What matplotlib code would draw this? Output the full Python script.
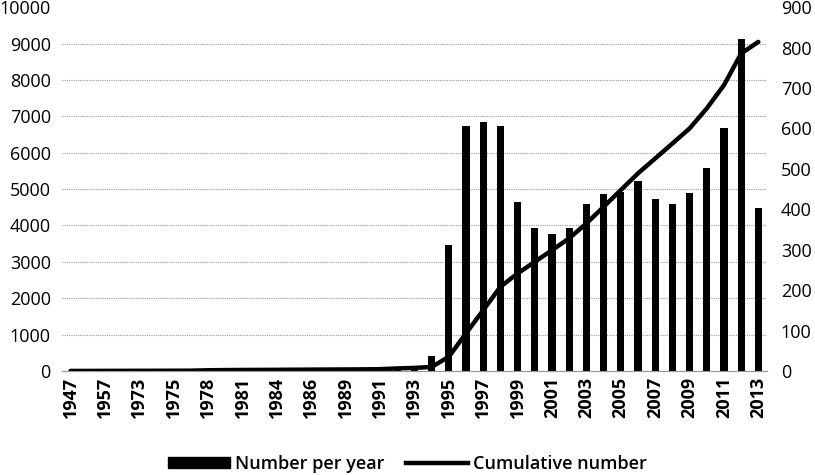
import numpy as np
import matplotlib.pyplot as plt
from matplotlib.patches import Patch
from matplotlib.lines import Line2D

plt.rcParams["font.family"] = ["Open Sans", "DejaVu Sans"]
plt.rcParams["font.size"] = 13

years = ["1947", "1953", "1957", "1966", "1973", "1974", "1975", "1977",
         "1978", "1980", "1981", "1983", "1984", "1985", "1986", "1988",
         "1989", "1990", "1991", "1992", "1993", "1994", "1995", "1996",
         "1997", "1998", "1999", "2000", "2001", "2002", "2003", "2004",
         "2005", "2006", "2007", "2008", "2009", "2010", "2011", "2012",
         "2013"]

# per-year counts (right axis)
per_year = [1, 1, 1, 1, 1, 1, 1, 1, 2, 1, 1, 1, 1, 1, 1, 1,
            1, 1, 2, 3, 3, 37, 312, 605, 616, 605, 417, 354, 340, 354,
            412, 437, 442, 469, 426, 414, 440, 502, 600, 821, 403]

# cumulative counts (left axis)
cumulative = [1, 2, 3, 4, 5, 6, 7, 9, 20, 25, 28, 30, 32, 35, 38, 40,
              42, 45, 50, 70, 85, 110, 390, 1035, 1670, 2315, 2680, 3000, 3320, 3645,
              4055, 4510, 4970, 5430, 5840, 6250, 6665, 7215, 7855, 8725, 9045]

x = np.arange(len(years))

fig = plt.figure(figsize=(8.15, 4.75), dpi=100)
ax = fig.add_axes([0.076, 0.219, 0.865, 0.766])   # bars, right scale
ax2 = ax.twinx()                                   # line, left scale

ax.bar(x, per_year, width=0.42, color="black", zorder=3)
ax.set_ylim(0, 900)
ax.set_yticks(np.arange(0, 901, 100))
ax.yaxis.tick_right()
ax.set_yticks(np.linspace(0, 900, 11), minor=True)
ax.grid(which="minor", axis="y", color="#999999", linestyle=(0, (1, 1)), linewidth=0.8, zorder=0)
ax.set_xlim(-0.5, len(years) - 0.5)
ax.set_xticks(x)
ax.set_xticklabels([y if i % 2 == 0 else "" for i, y in enumerate(years)],
                   rotation=90, fontweight="bold")

ax2.plot(x, cumulative, color="black", linewidth=3.2, solid_capstyle="round",
         solid_joinstyle="round")
ax2.set_ylim(0, 10000)
ax2.set_yticks(np.arange(0, 10001, 1000))
ax2.yaxis.tick_left()

for a in (ax, ax2):
    for s in ("top", "left", "right"):
        a.spines[s].set_visible(False)
    a.spines["bottom"].set_color("#999999")
    a.tick_params(which="both", length=0)
ax.tick_params(axis="y", pad=10)
ax2.tick_params(axis="y", pad=8)
ax.tick_params(axis="x", pad=4)

handles = [Patch(color="black"), Line2D([], [], color="black", linewidth=3.2)]
fig.legend(handles, ["Number per year", "Cumulative number"], loc="lower center",
           bbox_to_anchor=(0.5, -0.03), ncol=2, frameon=False, handlelength=3.4,
           handleheight=0.5, columnspacing=1.2, handletextpad=0.3,
           prop={"weight": "semibold", "size": 13})

fig.savefig("out.png", dpi=100)
